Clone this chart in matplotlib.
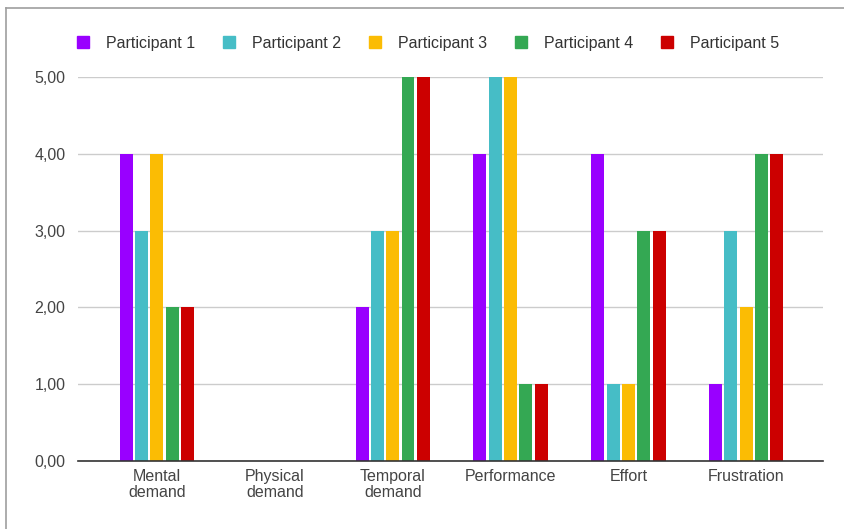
import numpy as np
import matplotlib.pyplot as plt
from matplotlib.lines import Line2D

plt.rcParams['font.family'] = ['Liberation Sans', 'DejaVu Sans']

categories = ['Mental\ndemand', 'Physical\ndemand', 'Temporal\ndemand',
              'Performance', 'Effort', 'Frustration']
participants = ['Participant 1', 'Participant 2', 'Participant 3',
                'Participant 4', 'Participant 5']
p1 = [4, 0, 2, 4, 4, 1]
p2 = [3, 0, 3, 5, 1, 3]
p3 = [4, 0, 3, 5, 1, 2]
p4 = [2, 0, 5, 1, 3, 4]
p5 = [2, 0, 5, 1, 3, 4]
yticks = [0, 1, 2, 3, 4, 5]

colors = ['#9900ff', '#46bdc6', '#fbbc04', '#34a853', '#cc0000']

fig = plt.figure(figsize=(8.44, 5.29), dpi=100)
ax = fig.add_axes([0.0924, 0.1285, 0.8826, 0.7259])

x = np.arange(len(categories))
step = 0.13
width = 0.11
for i, (vals, c, name) in enumerate(zip([p1, p2, p3, p4, p5], colors, participants)):
    ax.bar(x + (i - 2) * step, vals, width, color=c, label=name, zorder=3)

ax.set_xlim(-0.67, 5.65)
ax.set_ylim(0, 5)
ax.set_yticks(yticks)
ax.set_yticklabels(['%d,00' % v for v in yticks])
ax.set_xticks(x)
ax.set_xticklabels(categories, linespacing=1.05)
ax.tick_params(length=0, labelsize=11.5, colors='#444444')
ax.tick_params(axis='y', pad=9)
ax.tick_params(axis='x', pad=6)
ax.grid(axis='y', color='#cccccc', linewidth=1, zorder=0)
for s in ['top', 'right', 'left']:
    ax.spines[s].set_visible(False)
ax.spines['bottom'].set_color('#333333')
ax.spines['bottom'].set_linewidth(1.2)
ax.spines['bottom'].set_zorder(4)

handles = [Line2D([], [], marker='s', linestyle='', markersize=8,
                  markerfacecolor=c, markeredgecolor=c) for c in colors]
fig.legend(handles, participants, loc='center', bbox_to_anchor=(0.506, 0.918),
           ncol=5, frameon=False, fontsize=11.5, handletextpad=0.95,
           columnspacing=1.6, handlelength=1.0, labelcolor='#333333')

# screenshot frame
fig.add_artist(Line2D([6 / 844, 1], [1 - 8 / 529, 1 - 8 / 529], color='#9e9e9e', lw=1.2))
fig.add_artist(Line2D([6 / 844, 6 / 844], [0, 1 - 8 / 529], color='#9e9e9e', lw=1.2))

fig.savefig('out.png', dpi=100)
